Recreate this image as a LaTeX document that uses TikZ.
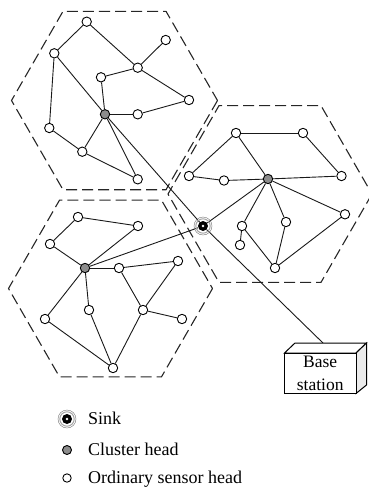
\documentclass[tikz,border=0pt]{standalone}
\usepackage{fontspec}
\setmainfont{Liberation Serif}
\pgfdeclarelayer{bg}
\pgfsetlayers{bg,main}
\begin{document}
\begin{tikzpicture}[x=1pt,y=-1pt,
  hexline/.style={draw=black!85,line width=1.1pt,dash pattern=on 11pt off 5pt},
  link/.style={draw=black!90,line width=0.9pt},
  sensor/.style={circle,draw=black,fill=white,line width=0.9pt,inner sep=0pt,minimum size=9.4pt},
  head/.style={sensor,fill=black!45},
  sinknode/.style={circle,fill=black,inner sep=0pt,minimum size=10pt,
    path picture={\fill[white] (path picture bounding box.center) circle (1.3pt);}},
  ringa/.style={draw=black!35,line width=1pt},
  ringb/.style={draw=black!55,line width=0.4pt},
  legtext/.style={anchor=base west,inner sep=0pt,font=\fontsize{18}{21}\selectfont},
]
\useasboundingbox (0,0) rectangle (368,488);

% nodes: cluster 1
\node[sensor] (a1) at (86.7,21.7) {};
\node[sensor] (a2) at (165.7,40) {};
\node[sensor] (a3) at (54.3,53.3) {};
\node[sensor] (a4) at (137.7,67.7) {};
\node[sensor] (a5) at (101,77.3) {};
\node[sensor] (a6) at (189,100) {};
\node[head]   (h1) at (105,114.3) {};
\node[sensor] (a7) at (137.7,114.3) {};
\node[sensor] (a8) at (49.3,128) {};
\node[sensor] (a9) at (82.3,151.7) {};
\node[sensor] (a10) at (137.7,179.3) {};

% cluster 2
\node[sensor] (b1) at (236,133) {};
\node[sensor] (b2) at (303,133) {};
\node[sensor] (b3) at (189,176) {};
\node[sensor] (b4) at (224,180.5) {};
\node[head]   (h2) at (268,179) {};
\node[sensor] (b5) at (341.5,176) {};
\node[sensor] (b6) at (345,214.3) {};
\node[sensor] (b7) at (286,222) {};
\node[sensor] (b8) at (242,226) {};
\node[sensor] (b9) at (240,245) {};
\node[sensor] (b10) at (275,268) {};

% cluster 3
\node[sensor] (c1) at (78,217) {};
\node[sensor] (c2) at (138,226) {};
\node[sensor] (c3) at (50,244) {};
\node[head]   (h3) at (85,268) {};
\node[sensor] (c4) at (119,268) {};
\node[sensor] (c5) at (178,261) {};
\node[sensor] (c6) at (89,310) {};
\node[sensor] (c7) at (143,310) {};
\node[sensor] (c8) at (45,319) {};
\node[sensor] (c9) at (182,319) {};
\node[sensor] (c10) at (113,368) {};

% sink
\node[sinknode] (s) at (203,226) {};
\draw[ringa] (s) circle (7.2pt);
\draw[ringb] (s) circle (9pt);

% base station
\coordinate (bstop) at (323,343);
\filldraw[fill=white,draw=black,line width=1pt] (284.5,353) -- (295,343) -- (366.5,343) -- (356,353) -- cycle;
\filldraw[fill=black!8,draw=black,line width=1pt] (356,353) -- (366.5,343) -- (366.5,385) -- (356,393.5) -- cycle;
\filldraw[fill=white,draw=black,line width=1pt] (284.5,353) rectangle (356,393.5);
\node[align=center,inner sep=0pt,font=\fontsize{17.5}{23}\selectfont] (bs) at (320.2,373.5) {Base\\station};

\begin{pgfonlayer}{bg}
% hexagons
\draw[hexline,shift={(114.5,100.5)}] (0:103) -- (60:103) -- (120:103) -- (180:103) -- (240:103) -- (300:103) -- cycle;
\draw[hexline,shift={(270,194)}] (0:102) -- (60:102) -- (120:102) -- (180:102) -- (240:102) -- (300:102) -- cycle;
\draw[hexline,shift={(110.5,288.5)}] (0:102) -- (60:102) -- (120:102) -- (180:102) -- (240:102) -- (300:102) -- cycle;
% links
\foreach \u/\v in {a1/a3,a1/a4,a2/a4,a4/a5,a4/a6,a3/h1,a3/a8,a5/h1,h1/a7,a7/a6,a8/a9,a9/h1,a9/a10,h1/a10,
  b1/b2,b1/h2,b1/b3,b2/b5,b3/b4,b4/h2,h2/b5,h2/b6,h2/b7,h2/b8,b8/b9,b8/b10,b7/b10,b10/b6,
  c1/c2,c1/c3,c3/h3,h3/c2,h3/c4,c4/c5,c4/c7,c5/c7,c7/c9,h3/c8,h3/c6,c6/c10,c8/c10,c7/c10,
  h1/s,h2/s,h3/s}
  \draw[link] (\u) -- (\v);
\draw[link] (s) -- (bstop);
\end{pgfonlayer}

% legend
\node[sinknode] (ls) at (67,419) {};
\draw[ringa] (ls) circle (7.2pt);
\draw[ringb] (ls) circle (9pt);
\node[head,minimum size=9pt] (lh) at (67,450) {};
\node[sensor,minimum size=8.4pt] (lo) at (67,478) {};
\node[legtext] (lt1) at (88,424.5) {Sink};
\node[legtext] (lt2) at (88,455.5) {Cluster head};
\node[legtext] (lt3) at (88,483.5) {Ordinary sensor head};
\end{tikzpicture}
\end{document}
